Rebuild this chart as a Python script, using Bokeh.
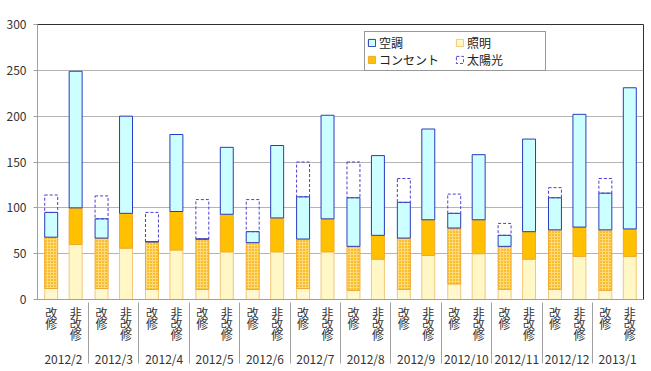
import numpy as np
from bokeh.plotting import figure
from bokeh.models import FactorRange, Legend, LegendItem, FixedTicker
from bokeh.embed import file_html
from bokeh.resources import INLINE

months = ["2012/2", "2012/3", "2012/4", "2012/5", "2012/6", "2012/7",
          "2012/8", "2012/9", "2012/10", "2012/11", "2012/12", "2013/1"]
groups = ["改\n修", "非\n改\n修"]
legend_labels = ["空調", "照明", "コンセント", "太陽光"]

# 改修 (renovated)
light_r = [12, 12, 11, 11, 11, 12, 10, 11, 17, 11, 11, 10]
outlet_r = [56, 55, 52, 55, 51, 54, 48, 56, 61, 47, 65, 66]
ac_r = [27, 21, 0, 0, 12, 46, 53, 39, 16, 12, 35, 40]
solar_r = [19, 25, 32, 43, 35, 38, 39, 26, 21, 13, 11, 16]

# 非改修 (non-renovated)
light_n = [60, 56, 54, 52, 52, 52, 44, 48, 50, 44, 47, 47]
outlet_n = [40, 38, 42, 41, 37, 36, 26, 39, 37, 30, 32, 30]
ac_n = [149, 106, 84, 73, 79, 113, 87, 99, 71, 101, 123, 154]

y_ticks = [0, 50, 100, 150, 200, 250, 300]

FONT = "Noto Sans CJK JP"
C_AC, L_AC = "#CCFFFF", "#2A3BBF"
C_LIGHT, L_LIGHT = "#FFF7C6", "#F2C77A"
C_OUT, L_OUT = "#FFC000", "#F0A830"
L_SOLAR = "#4A3FD0"

x_r = [(m, groups[0]) for m in months]
x_n = [(m, groups[1]) for m in months]
factors = [f for pair in zip(x_r, x_n) for f in pair]

p = figure(x_range=FactorRange(*factors, group_padding=0.06, range_padding=0.06,
                               range_padding_units="absolute"),
           y_range=(0, 300), width=649, height=369,
           output_backend="svg", toolbar_location=None,
           min_border_left=37, min_border_top=24, min_border_right=6,
           min_border_bottom=40)

W = 0.53
# renovated stacks
lr = np.array(light_r, float)
orr = lr + np.array(outlet_r, float)
ar = orr + np.array(ac_r, float)
sr = ar + np.array(solar_r, float)
p.vbar(x=x_r, bottom=0, top=lr, width=W, fill_color=C_LIGHT, line_color=L_LIGHT,
       hatch_pattern="+", hatch_color="#FFFBE6", hatch_scale=3, hatch_alpha=0.4)
p.vbar(x=x_r, bottom=lr, top=orr, width=W, fill_color="#F9BE2A", line_color=L_OUT,
       hatch_pattern="+", hatch_color="#FFD97A", hatch_scale=3, hatch_weight=1)
p.vbar(x=x_r, bottom=orr, top=ar, width=W, fill_color=C_AC, line_color=L_AC)
r_solar = p.vbar(x=x_r, bottom=ar, top=sr, width=W, fill_color=None,
                 line_color=L_SOLAR, line_dash="3 2")

# non-renovated stacks
ln = np.array(light_n, float)
on = ln + np.array(outlet_n, float)
an = on + np.array(ac_n, float)
r_light = p.vbar(x=x_n, bottom=0, top=ln, width=W, fill_color=C_LIGHT, line_color=L_LIGHT)
r_out = p.vbar(x=x_n, bottom=ln, top=on, width=W, fill_color=C_OUT, line_color=L_OUT)
r_ac = p.vbar(x=x_n, bottom=on, top=an, width=W, fill_color=C_AC, line_color=L_AC)

legend = Legend(items=[LegendItem(label=legend_labels[0], renderers=[r_ac]),
                       LegendItem(label=legend_labels[1], renderers=[r_light]),
                       LegendItem(label=legend_labels[2], renderers=[r_out]),
                       LegendItem(label=legend_labels[3], renderers=[r_solar])],
                orientation="horizontal", ncols=2,
                location=(327, 228))
legend.label_text_font = FONT
legend.label_text_font_size = "12px"
legend.label_text_color = "#222222"
legend.glyph_width = 9
legend.glyph_height = 9
legend.label_height = 11
legend.label_width = 76
legend.label_standoff = 3
legend.padding = 2
legend.spacing = 0
legend.margin = 0
legend.border_line_color = "#333333"
legend.border_line_width = 1
legend.background_fill_color = "white"
p.add_layout(legend)

p.yaxis.ticker = FixedTicker(ticks=y_ticks)
p.yaxis.major_label_text_font = FONT
p.yaxis.major_label_text_font_size = "12px"
p.yaxis.major_label_text_color = "#333333"
p.yaxis.axis_line_color = "#A0A0A0"
p.yaxis.major_tick_line_color = "#A0A0A0"
p.yaxis.major_tick_out = 4
p.yaxis.major_tick_in = 0
p.yaxis.minor_tick_line_color = None
p.yaxis.major_label_standoff = 7

p.xaxis.major_label_text_font = FONT
p.xaxis.major_label_text_font_size = "12px"
p.xaxis.major_label_text_line_height = 0.66
p.xaxis.major_label_text_color = "#333333"
p.xaxis.major_label_standoff = 4
p.xaxis.group_text_font = FONT
p.xaxis.group_text_font_size = "12px"
p.xaxis.group_text_line_height = 0.8
p.xaxis.group_text_color = "#333333"
p.xaxis.group_text_font_style = "normal"
p.xaxis.axis_line_color = "#A0A0A0"
p.xaxis.major_tick_line_color = None
p.xaxis.major_tick_out = 0
p.xaxis.major_tick_in = 0
p.xaxis.separator_line_color = "#A0A0A0"
p.xaxis.separator_line_width = 1

p.xgrid.grid_line_color = None
p.ygrid.grid_line_color = "#B4B4B4"
p.outline_line_color = "#303030"

open("out.html", "w").write(file_html(p, INLINE))
